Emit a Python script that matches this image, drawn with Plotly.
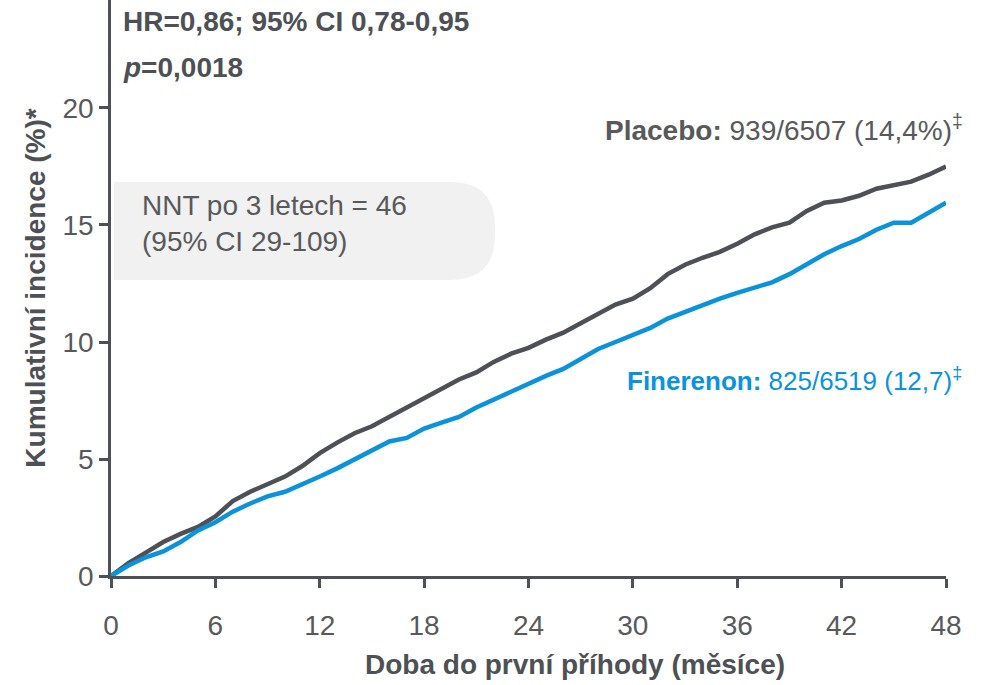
import plotly.graph_objects as go

# Months since randomisation
months = list(range(0, 49))

# Cumulative incidence (%) by month
placebo = [0, 0.55, 1.0, 1.45, 1.8, 2.1, 2.55, 3.2, 3.6, 3.95, 4.25, 4.7, 5.25,
           5.7, 6.1, 6.4, 6.8, 7.2, 7.55, 8.0, 8.4, 8.7, 9.15, 9.5, 9.75,
           10.1, 10.4, 10.8, 11.2, 11.6, 11.85, 12.3, 12.9, 13.3, 13.6, 13.85, 14.2,
           14.6, 14.9, 15.1, 15.6, 15.95, 16.05, 16.25, 16.55, 16.7, 16.85, 17.15, 17.5]
finerenone = [0, 0.45, 0.8, 1.05, 1.45, 1.95, 2.3, 2.75, 3.1, 3.4, 3.6, 3.9, 4.25,
              4.6, 5.0, 5.35, 5.75, 5.9, 6.3, 6.55, 6.8, 7.2, 7.55, 7.85, 8.25,
              8.55, 8.85, 9.3, 9.7, 10.0, 10.3, 10.6, 11.0, 11.3, 11.6, 11.85, 12.1,
              12.35, 12.55, 12.9, 13.35, 13.75, 14.1, 14.4, 14.8, 15.1, 15.1, 15.55, 15.95]

x_ticks = [0, 6, 12, 18, 24, 30, 36, 42, 48]
y_ticks = [0, 5, 10, 15, 20]

GREY = "#4d5054"
TEXT_GREY = "#58595b"
BLUE = "#0a93dc"
FONT = "Liberation Sans, Arial, sans-serif"

fig = go.Figure()
fig.add_trace(go.Scatter(x=months, y=placebo, mode="lines", name="Placebo",
                         line=dict(color=GREY, width=4.5), cliponaxis=False))
fig.add_trace(go.Scatter(x=months, y=finerenone, mode="lines", name="Finerenon",
                         line=dict(color=BLUE, width=4.5), cliponaxis=False))

# NNT box: square on the left, rounded on the right
x0, x1, y0, y1 = 0.17, 22.07, 12.65, 16.84
rx, ry = 2.6, 1.9
box_path = (f"M {x0},{y0} L {x0},{y1} L {x1 - rx},{y1} "
            f"Q {x1},{y1} {x1},{y1 - ry} L {x1},{y0 + ry} "
            f"Q {x1},{y0} {x1 - rx},{y0} Z")
fig.add_shape(type="path", path=box_path, xref="x", yref="y",
              fillcolor="#f1f1f1", line=dict(width=0), layer="below")

fig.add_annotation(x=1.67, y=15.06, xref="x", yref="y", xanchor="left", yanchor="middle",
                   text="NNT po 3 letech = 46<br>(95% CI 29-109)", showarrow=False, align="left",
                   font=dict(family=FONT, size=28, color=TEXT_GREY))

fig.add_annotation(x=0.0125, y=0.962, xref="paper", yref="paper", xanchor="left", yanchor="middle",
                   text="<b>HR=0,86; 95% CI 0,78-0,95</b>", showarrow=False,
                   font=dict(family=FONT, size=28, color=GREY))
fig.add_annotation(x=0.0125, y=0.882, xref="paper", yref="paper", xanchor="left", yanchor="middle",
                   text="<b><i>p</i>=0,0018</b>", showarrow=False,
                   font=dict(family=FONT, size=28, color=GREY))

fig.add_annotation(x=1.0228, y=19.15, xref="paper", yref="y", xanchor="right", yanchor="middle",
                   text="<b>Placebo:</b> 939/6507 (14,4%)<sup>‡</sup>", showarrow=False,
                   font=dict(family=FONT, size=28, color=TEXT_GREY))
fig.add_annotation(x=1.021, y=8.38, xref="paper", yref="y", xanchor="right", yanchor="middle",
                   text="<b>Finerenon:</b> 825/6519 (12,7)<sup>‡</sup>", showarrow=False,
                   font=dict(family=FONT, size=26, color=BLUE))

# x-axis title, set slightly right of the plot centre
fig.add_annotation(x=0.5557, y=-0.1545, xref="paper", yref="paper", xanchor="center", yanchor="middle",
                   text="<b>Doba do první příhody (měsíce)</b>", showarrow=False,
                   font=dict(family=FONT, size=28, color=GREY))

axis_common = dict(showgrid=False, zeroline=False, showline=True, linecolor=GREY, linewidth=2.5,
                   ticks="outside", ticklen=9, tickwidth=2.5, tickcolor=GREY,
                   tickfont=dict(family=FONT, size=28, color=TEXT_GREY))

fig.update_layout(
    width=994, height=685,
    margin=dict(l=111, r=48, t=0, b=109),
    paper_bgcolor="white", plot_bgcolor="white",
    showlegend=False,
    xaxis=dict(range=[0, 48], tickvals=x_ticks, ticktext=[str(v) for v in x_ticks],
               ticklabelstandoff=14, **axis_common),
    yaxis=dict(range=[0, 24.615], tickvals=y_ticks, ticktext=[str(v) for v in y_ticks],
               title=dict(text="<b>Kumulativní incidence (%)*</b>", standoff=9,
                          font=dict(family=FONT, size=28, color=GREY)),
               **axis_common),
)

fig.write_html("out.html")
